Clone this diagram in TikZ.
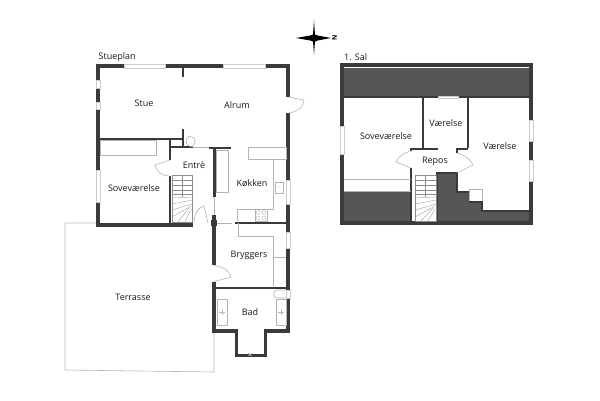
\documentclass[tikz,border=0pt]{standalone}
\usepackage{fontspec}
\setmainfont{Open Sans}

\tikzset{
  room/.style={font=\fontsize{9}{11}\selectfont,text=black!90,inner sep=0pt},
  wall/.style={draw=wallc,line width=4pt},
  iwall/.style={draw=wallc,line width=2pt},
  thin/.style={draw=linec,line width=.6pt},
  win/.style={draw=linec!70,fill=white,line width=.4pt},
  stairline/.style={draw=black!45,line width=.3pt},
}
\definecolor{wallc}{HTML}{3A3A3A}
\definecolor{linec}{HTML}{B4B4B4}
\definecolor{slope}{HTML}{565656}

\begin{document}
\begin{tikzpicture}[x=1pt,y=-1pt]
\useasboundingbox (0,0) rectangle (600,400);

% terrace
\draw[thin] (98,223) -- (65,223) -- (65,370) -- (214,372) -- (214,331);

% ground floor, outer walls
\draw[wall] (96,66) -- (288,66);
\draw[wall] (98,64) -- (98,225) -- (193,225);
\draw[wall] (288,64) -- (288,97);
\draw[wall] (288,113) -- (288,180);
\draw[wall] (288,204) -- (288,232);
\draw[wall] (288,248) -- (288,290);
\draw[wall] (288,298) -- (288,331) -- (264,331);
\draw[wall] (214,331) -- (238,331);
\draw[line width=3pt,draw=wallc] (236.5,329) -- (236.5,355.5) -- (265.5,355.5) -- (265.5,329);
\draw[wall] (214,215) -- (214,265);
\draw[wall] (214,281.5) -- (214,333);
\fill[wallc] (211,220) rectangle (217,226);

% ground floor, windows
\foreach \xa/\xb in {124/165,223/265}
  \draw[win] (\xa,64) rectangle (\xb,68);
\foreach \ya/\yb in {80/88,102/109,170/202}
  \draw[win] (96,\ya) rectangle (100,\yb);
\foreach \ya/\yb in {180/204,232/248,290/298}
  \draw[win] (286,\ya) rectangle (290,\yb);

% ground floor, inner walls
\draw[iwall] (183,66) -- (183,77);
\draw[iwall] (98,139) -- (183,139);
\draw[iwall] (183,129) -- (183,147);
\draw[iwall] (170,139) -- (170,160);
\draw[iwall] (170,147) -- (193,147);
\draw[iwall] (170,176) -- (170,224);
\draw[iwall] (209,148) -- (231,148);
\draw[line width=3pt,draw=wallc] (214,147) -- (214,197);
\draw[line width=2.5pt,draw=wallc] (235,223) -- (288,223);
\draw[iwall] (214,287.5) -- (288,287.5);

% ground floor, thin lines
\draw[thin] (100,140) rectangle (156,155);
\draw[thin] (193,147) -- (209,147);
\draw[thin] (214,197) -- (214,215);
\draw[thin] (217,223) -- (232,223);
\draw[thin] (216,150) rectangle (228,192);
\draw[thin] (248,147) rectangle (286,159);
\draw[thin] (273,159) -- (273,209) -- (237,209) -- (237,221);
\draw[thin] (255,209) rectangle (267,221);
\draw[thin] (275,182) rectangle (283,193);
\fill[linec] (279,187) circle (.6);
\foreach \cx in {258,264} \foreach \cy in {212.5,218}
  \draw[thin,line width=.4pt] (\cx,\cy) circle (2);
\draw[thin] (238,223) -- (238,236) -- (273,236) -- (273,286);
\draw[thin] (273,257) -- (286,257);
\draw[thin] (217,299) rectangle (227,325);
\draw[thin] (276,299) rectangle (286,325);
\draw[thin,line width=.4pt] (219,312) -- (225,312) (222,309) -- (222,315);
\draw[thin,line width=.4pt] (278,312) -- (284,312) (281,309) -- (281,315);
\draw[thin] (286,290) -- (278,290) .. controls (272,290) and (272,298) .. (278,298) -- (286,298);
\draw[thin] (186,140) -- (189,136) -- (194,138) -- (195,143) -- (192,147) -- (187,145) -- cycle;
\draw[thin] (248,356) -- (252,353) (252,356) -- (248,353);

% doors
\draw[thin] (288,97) -- (304,100) .. controls (304,106) and (298,112) .. (288,113);
\draw[thin] (170,160) -- (155,165) .. controls (156,171) and (162,176) .. (170,176);
\draw[thin] (208,223) -- (204,206) .. controls (198,207) and (194,215) .. (194,223);
\draw[thin] (214,265.5) .. controls (222,266) and (230,271) .. (231,277) -- (214,281.5);

% ground floor stairs
\draw[stairline] (172,175) rectangle (192,222);
\foreach \yy in {180,185,190,194}
  \draw[stairline] (172,\yy) -- (192,\yy);
\draw[stairline] (182,175) -- (182,197);
\foreach \xa/\ya/\xb/\yb in {172/198/192/197,172/204/192/200,172/210/192/204,172/217/191/206,178/222/189/208,185/222/191/209}
  \draw[stairline] (\xa,\ya) -- (\xb,\yb);

% first floor, dark areas
\fill[slope] (344,68) rectangle (529,97);
\fill[slope] (344,192) rectangle (411,221);
\fill[slope] (438,173) -- (456,173) -- (456,192) -- (469,192) -- (469,202) -- (482,202)
  -- (482,211) -- (529,211) -- (529,221) -- (438,221) -- cycle;
\draw[thin,fill=white] (469,189) rectangle (482,202);
\draw[iwall,line width=1.5pt] (456,192) -- (469,192) (469,202) -- (482,202) -- (482,211) -- (529,211);

% first floor, outer walls
\draw[wall] (342,65) rectangle (531,223);
\foreach \ya/\yb in {126/154}
  \draw[win] (340,\ya) rectangle (344,\yb);
\foreach \ya/\yb in {120/141,160/181}
  \draw[win] (529,\ya) rectangle (533,\yb);

% first floor, inner walls
\draw[iwall,line width=1.5pt] (344,97) -- (529,97);
\draw[win] (438,96) rectangle (458,98);
\draw[iwall] (423,97) -- (423,148);
\draw[iwall] (468,97) -- (468,148);
\draw[iwall] (411,151) -- (411,148.5) -- (438,148.5);
\draw[iwall] (456,148.5) -- (468,148.5);
\draw[iwall] (457,148.5) -- (457,153);
\draw[iwall] (411,168) -- (411,222);
\draw[iwall] (437,222) -- (437,173) -- (457,173) -- (457,192);

% first floor, thin lines and doors
\draw[thin] (344,179) -- (411,179);
\draw[thin] (344,191.5) -- (411,191.5);
\draw[thin] (411,151) .. controls (403,153) and (398,157) .. (396,162) -- (411,168);
\draw[thin] (457,153) .. controls (465,155) and (471,160) .. (473,165) -- (457,173);

% first floor stairs
\fill[white] (415,175) rectangle (436,221);
\draw[stairline] (415,175) rectangle (436,221);
\foreach \yy in {180,185,190,194}
  \draw[stairline] (415,\yy) -- (436,\yy);
\draw[stairline] (425,175) -- (425,197);
\foreach \xa/\ya/\xb/\yb in {415/198/436/197,415/204/436/200,415/210/436/204,415/217/435/206,421/221/433/208,428/221/435/209}
  \draw[stairline] (\xa,\ya) -- (\xb,\yb);

% compass
\fill[black] (314,20) -- (315,35) -- (331,38) -- (315,41) -- (314,55) -- (313,41)
  -- (296,38) -- (313,35) -- cycle;
\fill[black] (314,38) circle (4);
\node[font=\bfseries\fontsize{6.5}{7}\selectfont,rotate=90,inner sep=0pt] (nord) at (334.5,38) {N};

% labels
\node[room,anchor=west] (stueplan) at (98.5,57.5) {Stueplan};
\node[room] (stue) at (144,103) {Stue};
\node[room] (alrum) at (237,105) {Alrum};
\node[room] (entre) at (194,165) {Entrè};
\node[room] (koekken) at (252,183) {Køkken};
\node[room] (sove) at (134,188) {Soveværelse};
\node[room] (bryggers) at (249,255) {Bryggers};
\node[room] (terrasse) at (133,297) {Terrasse};
\node[room] (bad) at (250,312) {Bad};
\node[room,anchor=west] (sal) at (344,57.5) {1. Sal};
\node[room] (sove2) at (386,136) {Soveværelse};
\node[room] (vaer1) at (446,123) {Værelse};
\node[room] (vaer2) at (500,146) {Værelse};
\node[room] (repos) at (435,161) {Repos};
\end{tikzpicture}
\end{document}
